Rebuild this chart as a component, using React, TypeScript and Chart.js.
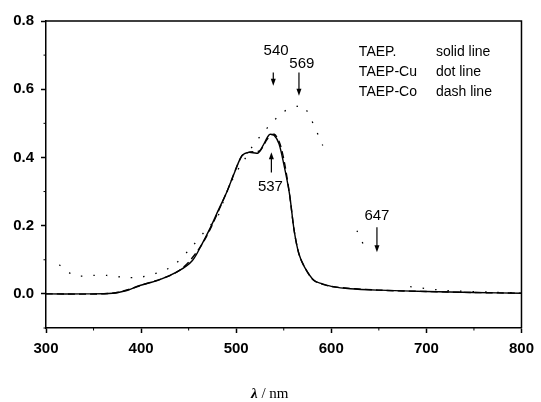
import React, { useEffect, useRef } from "react";
import { Chart, registerables } from "chart.js";

Chart.register(...registerables);

// TAEP (solid line)
const taepWl = [300, 340, 370, 385, 398, 419, 440, 454, 464, 473, 481, 490, 499, 506, 513, 523, 528, 535, 540, 545, 550, 556, 561, 566, 572, 582, 590, 600, 620, 650, 700, 750, 800];
const taepAbs = [0, 0, 0.002, 0.01, 0.024, 0.041, 0.068, 0.098, 0.146, 0.195, 0.244, 0.298, 0.361, 0.405, 0.415, 0.413, 0.434, 0.467, 0.464, 0.44, 0.381, 0.294, 0.185, 0.117, 0.078, 0.039, 0.03, 0.022, 0.015, 0.011, 0.007, 0.004, 0.002];

// TAEP-Cu (dot line)
const cuWl = [314, 330, 350, 364, 381, 400, 431, 453, 469, 480, 488, 499, 506, 520, 549, 568, 573, 578, 591, 605, 627, 631, 636, 660, 683, 720, 770, 800];
const cuAbs = [0.085, 0.054, 0.054, 0.054, 0.049, 0.049, 0.078, 0.137, 0.19, 0.224, 0.283, 0.352, 0.381, 0.444, 0.532, 0.552, 0.542, 0.517, 0.435, null, 0.185, 0.161, 0.132, null, 0.021, 0.01, 0.005, 0.003];

// TAEP-Co (dash line)
const coWl = [300, 370, 400, 440, 465, 490, 506, 515, 525, 533, 540, 546, 551, 556, 561, 566, 572, 582, 600, 650, 700, 750, 800];
const coAbs = [0, 0.002, 0.025, 0.068, 0.15, 0.298, 0.405, 0.416, 0.42, 0.455, 0.468, 0.44, 0.381, 0.294, 0.185, 0.117, 0.078, 0.039, 0.022, 0.011, 0.007, 0.004, 0.002];

// Peak annotations (data coordinates)
const peakLabels = ["540", "569", "537", "647"];
const peakLabelX = [542, 569, 536, 648];
const peakLabelY = [0.711, 0.674, 0.314, 0.229];
const arrowX = [539, 566, 537, 648];
const arrowFrom = [0.649, 0.649, 0.356, 0.195];
const arrowTo = [0.61, 0.581, 0.415, 0.122];

// Legend text (data coordinates)
const legendNames = ["TAEP.", "TAEP-Cu", "TAEP-Co"];
const legendStyles = ["solid line", "dot line", "dash line"];
const legendNameX = 629;
const legendStyleX = 710;
const legendY = [0.708, 0.649, 0.591];

const xTicksMajor = [300, 400, 500, 600, 700, 800];

const SANS = "'Liberation Sans', Arial, sans-serif";
const SERIF = "'Liberation Serif', 'Times New Roman', serif";

const isMajorY = (v: number) => Math.round(v * 10) % 2 === 0;
const isMajorX = (v: number) => Math.round(v) % 100 === 0;

const decorPlugin = {
  id: "decor",
  afterDraw(chart: any) {
    const { ctx, chartArea, scales } = chart;
    const xs = scales.x;
    const ys = scales.y;
    ctx.save();
    // frame top & right
    ctx.strokeStyle = "#000";
    ctx.lineWidth = 1.5;
    ctx.beginPath();
    ctx.moveTo(chartArea.left, chartArea.top);
    ctx.lineTo(chartArea.right, chartArea.top);
    ctx.lineTo(chartArea.right, chartArea.bottom);
    ctx.stroke();
    // minor ticks
    ctx.lineWidth = 1;
    xs.ticks.forEach((t: any) => {
      if (!isMajorX(t.value)) {
        const px = xs.getPixelForValue(t.value);
        ctx.beginPath();
        ctx.moveTo(px, chartArea.bottom);
        ctx.lineTo(px, chartArea.bottom + 2.5);
        ctx.stroke();
      }
    });
    ys.ticks.forEach((t: any) => {
      if (!isMajorY(t.value)) {
        const py = ys.getPixelForValue(t.value);
        ctx.beginPath();
        ctx.moveTo(chartArea.left, py);
        ctx.lineTo(chartArea.left - 2.5, py);
        ctx.stroke();
      }
    });
    // arrows
    ctx.fillStyle = "#000";
    for (let i = 0; i < peakLabels.length; i++) {
      const px = xs.getPixelForValue(arrowX[i]);
      const p1 = ys.getPixelForValue(arrowFrom[i]);
      const p2 = ys.getPixelForValue(arrowTo[i]);
      const dir = p2 > p1 ? 1 : -1;
      ctx.lineWidth = 1.2;
      ctx.beginPath();
      ctx.moveTo(px, p1);
      ctx.lineTo(px, p2 - dir * 5);
      ctx.stroke();
      ctx.beginPath();
      ctx.moveTo(px, p2);
      ctx.lineTo(px - 2.5, p2 - dir * 7);
      ctx.lineTo(px + 2.5, p2 - dir * 7);
      ctx.closePath();
      ctx.fill();
      ctx.font = `15px ${SANS}`;
      ctx.textAlign = "center";
      ctx.textBaseline = "middle";
      ctx.fillText(peakLabels[i], xs.getPixelForValue(peakLabelX[i]), ys.getPixelForValue(peakLabelY[i]));
    }
    // legend text
    ctx.font = `14px ${SANS}`;
    ctx.textAlign = "left";
    ctx.textBaseline = "middle";
    for (let i = 0; i < legendNames.length; i++) {
      const py = ys.getPixelForValue(legendY[i]);
      ctx.fillText(legendNames[i], xs.getPixelForValue(legendNameX), py);
      ctx.fillText(legendStyles[i], xs.getPixelForValue(legendStyleX), py);
    }
    // axis title: italic lambda + " / nm"
    const cx = (chartArea.left + chartArea.right) / 2 - 14;
    const ty = 394;
    ctx.font = `italic bold 15px ${SERIF}`;
    const lw = ctx.measureText("λ").width;
    ctx.font = `15px ${SERIF}`;
    const rw = ctx.measureText(" / nm").width;
    const startX = cx - (lw + rw) / 2;
    ctx.textAlign = "left";
    ctx.font = `italic bold 15px ${SERIF}`;
    ctx.fillText("λ", startX, ty);
    ctx.font = `15px ${SERIF}`;
    ctx.fillText(" / nm", startX + lw, ty);
    ctx.restore();
  },
};

export default function App() {
  const ref = useRef<HTMLCanvasElement | null>(null);
  useEffect(() => {
    if (!ref.current) return;
    const mk = (wl: number[], ab: (number | null)[]) => wl.map((x, i) => ({ x, y: ab[i] }));
    const chart = new Chart(ref.current, {
      type: "line",
      data: {
        datasets: [
          {
            label: "TAEP",
            data: mk(taepWl, taepAbs),
            borderColor: "#000",
            borderWidth: 1.4,
            pointRadius: 0,
            tension: 0.3,
            fill: false,
          },
          {
            label: "TAEP-Cu",
            data: mk(cuWl, cuAbs),
            borderColor: "#000",
            borderWidth: 1.3,
            borderDash: [1.5, 11],
            pointRadius: 0,
            tension: 0.3,
            spanGaps: false,
            fill: false,
          },
          {
            label: "TAEP-Co",
            data: mk(coWl, coAbs),
            borderColor: "#000",
            borderWidth: 1.4,
            borderDash: [7, 4],
            pointRadius: 0,
            tension: 0.3,
            fill: false,
          },
        ],
      },
      options: {
        responsive: false,
        animation: false,
        layout: { padding: { left: 0, right: 15, top: 21, bottom: 0 } },
        plugins: { legend: { display: false }, tooltip: { enabled: false } },
        scales: {
          x: {
            type: "linear",
            min: 300,
            max: 800,
            afterFit: (s: any) => {
              s.height = 74;
            },
            afterBuildTicks: (s: any) => {
              const t: any[] = [];
              for (let v = 300; v <= 800; v += 50) t.push({ value: v });
              s.ticks = t;
            },
            ticks: {
              autoSkip: false,
              maxRotation: 0,
              padding: 7,
              color: "#000",
              font: { family: SANS, size: 15, weight: "bold" },
              callback: (v: any) => (xTicksMajor.includes(Math.round(v)) ? String(Math.round(v)) : ""),
            },
            grid: {
              drawOnChartArea: false,
              drawTicks: true,
              tickLength: 5,
              tickWidth: 1.5,
              tickColor: (c: any) => (c.tick && isMajorX(c.tick.value) ? "#000" : "rgba(0,0,0,0)"),
            },
            border: { display: true, color: "#000", width: 1.5 },
          },
          y: {
            type: "linear",
            min: -0.1,
            max: 0.8,
            afterFit: (s: any) => {
              s.width = 46;
            },
            afterBuildTicks: (s: any) => {
              const t: any[] = [];
              for (let k = -1; k <= 8; k++) t.push({ value: k / 10 });
              s.ticks = t;
            },
            ticks: {
              autoSkip: false,
              padding: 7,
              color: "#000",
              font: { family: SANS, size: 15, weight: "bold" },
              callback: (v: any) => (isMajorY(v) && v >= 0 ? Number(v).toFixed(1) : ""),
            },
            grid: {
              drawOnChartArea: false,
              drawTicks: true,
              tickLength: 5,
              tickWidth: 1.5,
              tickColor: (c: any) => (c.tick && isMajorY(c.tick.value) ? "#000" : "rgba(0,0,0,0)"),
            },
            border: { display: true, color: "#000", width: 1.5 },
          },
        },
      },
      plugins: [decorPlugin],
    });
    return () => chart.destroy();
  }, []);
  return (
    <div style={{ position: "fixed", left: 0, top: 0, width: 541, height: 402, background: "#fff" }}>
      <canvas ref={ref} width={541} height={402} />
    </div>
  );
}
